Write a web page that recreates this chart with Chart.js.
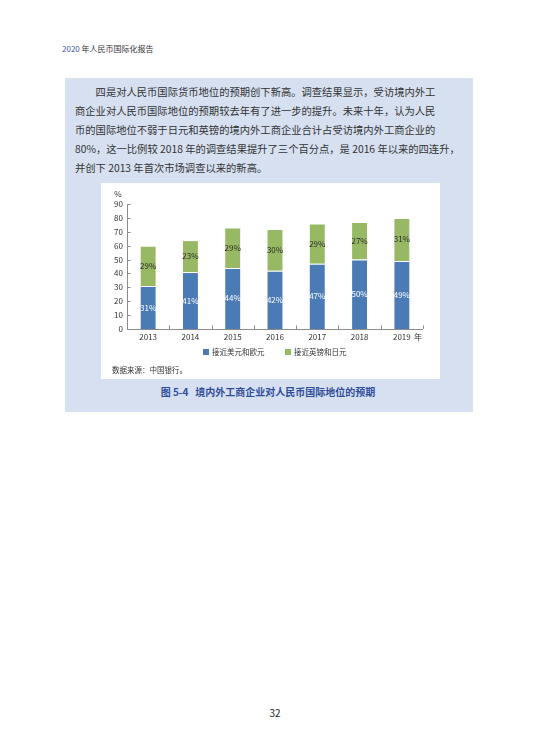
<!DOCTYPE html>
<html>
<head>
<meta charset="utf-8">
<script src="https://cdn.jsdelivr.net/npm/chart.js@4/dist/chart.umd.min.js"></script>
<style>
  html,body{margin:0;padding:0;background:#fff;}
  body{width:550px;height:746px;position:relative;overflow:hidden;font-family:"Noto Sans CJK SC","Noto Sans",sans-serif;color:#333;}
  .abs{position:absolute;}
  #header{left:62px;top:43px;font-size:8px;color:#333;white-space:nowrap;}
  #header b{color:#3a55a4;font-weight:normal;}
  #panel{left:65px;top:78px;width:408px;height:334px;background:#d6e0f1;}
  .line{position:absolute;left:75px;width:360px;font-size:10.3px;line-height:19px;height:19px;color:#333;text-align:justify;text-align-last:justify;white-space:nowrap;}
  .last{text-align-last:left;}
  #white{left:101px;top:183px;width:339px;height:196px;background:#fff;}
  #chartwrap{left:101px;top:183px;width:339px;height:165px;}
  .leg{font-size:7.5px;color:#333;white-space:nowrap;line-height:10px;}
  .sq{display:inline-block;width:6px;height:6px;margin-right:3px;vertical-align:0px;}
  #source{left:112px;top:364px;font-size:7.5px;color:#333;white-space:nowrap;}
  #caption{left:0;width:536px;top:384px;text-align:center;font-size:10px;font-weight:bold;color:#2f4d9a;white-space:nowrap;}
  #pageno{left:0;width:550px;top:705px;text-align:center;font-size:10px;color:#222;}
</style>
</head>
<body>
<div id="header" class="abs"><b>2020</b> 年人民币国际化报告</div>
<div id="panel" class="abs"></div>
<div class="line" style="top:82px;text-indent:20.6px;width:339.4px;left:95.6px;text-indent:0;">四是对人民币国际货币地位的预期创下新高。调查结果显示，受访境内外工</div>
<div class="line" style="top:101px;">商企业对人民币国际地位的预期较去年有了进一步的提升。未来十年，认为人民</div>
<div class="line" style="top:120px;">币的国际地位不弱于日元和英镑的境内外工商企业合计占受访境内外工商企业的</div>
<div class="line" style="top:139px;">80%，这一比例较 2018 年的调查结果提升了三个百分点，是 2016 年以来的四连升，</div>
<div class="line last" style="top:158px;">并创下 2013 年首次市场调查以来的新高。</div>
<div id="white" class="abs"></div>
<div id="chartwrap" class="abs"><canvas id="c"></canvas></div>
<div class="abs leg" style="left:203px;top:347px;"><span class="sq" style="background:#4b7bb5"></span>接近美元和欧元</div>
<div class="abs leg" style="left:285px;top:347px;"><span class="sq" style="background:#98b964"></span>接近英镑和日元</div>
<div id="source" class="abs">数据来源：中国银行。</div>
<div id="caption" class="abs">图 5-4&nbsp;&nbsp;&nbsp;境内外工商企业对人民币国际地位的预期</div>
<div id="pageno" class="abs">32</div>
<script>
const years = ["2013","2014","2015","2016","2017","2018","2019"];
const usdEur = [31, 41, 44, 42, 47, 50, 49];
const gbpJpy = [29, 23, 29, 30, 29, 27, 31];
const yTicks = [0,10,20,30,40,50,60,70,80,90];
const seriesNames = ["接近美元和欧元","接近英镑和日元"];

const FONT = '"Noto Sans CJK SC","Noto Sans",sans-serif';

const decor = {
  id:'decor',
  afterDatasetsDraw(chart){
    const ctx = chart.ctx, ca = chart.chartArea;
    const xs = chart.scales.x, ys = chart.scales.y;
    ctx.save();
    // axes
    ctx.strokeStyle = '#8c8c8c';
    ctx.lineWidth = 1;
    ctx.beginPath();
    ctx.moveTo(ca.left+0.5, ys.getPixelForValue(90));
    ctx.lineTo(ca.left+0.5, ca.bottom+0.5);
    ctx.lineTo(ca.right, ca.bottom+0.5);
    ctx.stroke();
    // y inner ticks
    yTicks.forEach(v=>{
      const y = Math.round(ys.getPixelForValue(v))+0.5;
      ctx.beginPath(); ctx.moveTo(ca.left, y); ctx.lineTo(ca.left+3.5, y); ctx.stroke();
    });
    // x inner ticks at category boundaries
    const n = years.length, w = (ca.right-ca.left)/n;
    for(let i=0;i<=n;i++){
      const x = Math.round(ca.left + i*w)+0.5;
      ctx.beginPath(); ctx.moveTo(x, ca.bottom); ctx.lineTo(x, ca.bottom-3.5); ctx.stroke();
    }
    // data labels
    ctx.font = '8px '+FONT;
    ctx.textAlign='center'; ctx.textBaseline='middle';
    chart.data.datasets.forEach((ds,di)=>{
      const meta = chart.getDatasetMeta(di);
      meta.data.forEach((el,i)=>{
        ctx.fillStyle = di===0 ? '#ffffff' : '#2b2b2b';
        ctx.fillText(ds.data[i]+'%', el.x, (el.y+el.base)/2);
      });
    });
    // unit labels
    ctx.fillStyle='#333';
    ctx.font = '8px '+FONT;
    ctx.fillText('%', ca.left-9, ys.getPixelForValue(90)-10);
    ctx.fillText('年', ca.right-5, ca.bottom+8);
    ctx.restore();
  }
};

new Chart(document.getElementById('c'), {
  type:'bar',
  data:{
    labels: years,
    datasets:[
      {label:seriesNames[0], data:usdEur, backgroundColor:'#4b7bb5', borderColor:'rgba(255,255,255,0.35)', borderWidth:{left:1,right:1,top:1,bottom:0}, barPercentage:0.4, categoryPercentage:1},
      {label:seriesNames[1], data:gbpJpy, backgroundColor:'#98b964', borderColor:'rgba(255,255,255,0.35)', borderWidth:{left:1,right:1,top:1,bottom:0}, barPercentage:0.4, categoryPercentage:1}
    ]
  },
  options:{
    responsive:true, maintainAspectRatio:false, animation:false,
    layout:{padding:{top:21,right:17,left:0,bottom:0}},
    plugins:{legend:{display:false}, tooltip:{enabled:false}},
    scales:{
      x:{stacked:true, grid:{display:false, drawTicks:false}, border:{display:false},
         ticks:{color:'#333', font:{family:FONT,size:8}, padding:3, maxRotation:0},
         afterFit(s){s.height=19;}},
      y:{stacked:true, min:0, max:90, grid:{display:false, drawTicks:false}, border:{display:false},
         ticks:{stepSize:10, color:'#333', font:{family:FONT,size:8}, padding:4},
         afterFit(s){s.width=26;}}
    }
  },
  plugins:[decor]
});
</script>
</body>
</html>
